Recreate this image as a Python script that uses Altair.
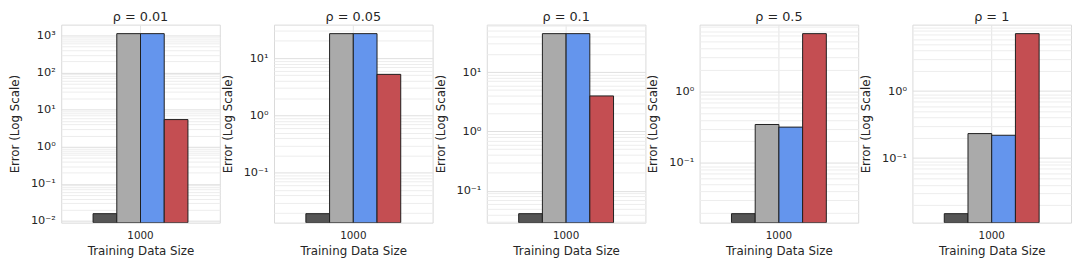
import math
import altair as alt
import pandas as pd

# ---- data ----
methods = ["M1", "M2", "M3", "M4"]
colors = ["#555555", "#AAAAAA", "#6495ED", "#C44E52"]
rho_titles = ["ρ = 0.01", "ρ = 0.05", "ρ = 0.1", "ρ = 0.5", "ρ = 1"]
train_size = "1000"
err_rho_001 = [0.0158, 1112, 1112, 5.4]
err_rho_005 = [0.0193, 26.7, 26.7, 5.2]
err_rho_01 = [0.041, 44.5, 44.5, 3.96]
err_rho_05 = [0.0194, 0.344, 0.316, 6.44]
err_rho_1 = [0.0148, 0.232, 0.219, 7.2]
all_errors = [err_rho_001, err_rho_005, err_rho_01, err_rho_05, err_rho_1]

SUP = {-3: "10⁻³", -2: "10⁻²", -1: "10⁻¹", 0: "10⁰", 1: "10¹", 2: "10²", 3: "10³", 4: "10⁴"}
LOGE = "(log(datum.value)/LN10)"
IS_DECADE = f"abs({LOGE} - round({LOGE})) < 1e-6"


def label_expr():
    expr = "''"
    for e, s in SUP.items():
        expr = f"round({LOGE}) == {e} ? '{s}' : " + expr
    return f"{IS_DECADE} ? ({expr}) : ''"


def panel(title, vals):
    a = math.log10(min(vals))
    b = math.log10(max(vals))
    m = 0.05 * (b - a)
    lo, hi = 10 ** (a - m), 10 ** (b + m)
    df = pd.DataFrame({
        "size": [train_size] * len(methods),
        "method": methods,
        "error": vals,
        "base": [lo] * len(methods),
    })
    grid_vals = []
    for e in range(math.floor(a - m) - 1, math.ceil(b + m) + 1):
        for k in range(1, 10):
            v = k * 10 ** e
            if lo <= v <= hi:
                grid_vals.append(v)
    return (
        alt.Chart(df)
        .mark_bar(stroke="#1e1e1e", strokeWidth=1, clip=True)
        .encode(
            x=alt.X(
                "size:N",
                title="Training Data Size",
                scale=alt.Scale(paddingInner=0, paddingOuter=0.336),
                axis=alt.Axis(
                    labelAngle=0, ticks=False, domain=False, grid=True, bandPosition=0.5,
                    gridColor="#e4e4e4", labelFontSize=10.5, titleFontSize=12,
                    labelPadding=8, titlePadding=5,
                ),
            ),
            xOffset=alt.XOffset("method:N", sort=methods, scale=alt.Scale(paddingInner=0, paddingOuter=0)),
            y=alt.Y(
                "error:Q",
                title="Error (Log Scale)",
                scale=alt.Scale(type="log", domain=[lo, hi], nice=False),
                axis=alt.Axis(
                    values=grid_vals, labelExpr=label_expr(), labelOverlap=False, labelFlush=False,
                    ticks=False, domain=False, grid=True,
                    gridColor={"condition": {"test": IS_DECADE, "value": "#dedede"}, "value": "#ededed"},
                    labelFontSize={"condition": {"test": IS_DECADE, "value": 11.5}, "value": 0},
                    titleFontSize=12, labelPadding=6, titlePadding=9,
                ),
            ),
            y2="base:Q",
            color=alt.Color("method:N", sort=methods, scale=alt.Scale(domain=methods, range=colors), legend=None),
        )
        .properties(
            width=161, height=201,
            title=alt.TitleParams(title, fontSize=13, fontWeight="normal", offset=1),
        )
    )


panels = [panel(t, v) for t, v in zip(rho_titles, all_errors)]

chart = (
    alt.hconcat(*panels, spacing=55, bounds="flush")
    .properties(padding={"left": 0, "top": 0, "right": 0, "bottom": 0})
    .configure(font="DejaVu Sans")
    .configure_view(stroke="#d9d9d9", strokeWidth=1)
    .configure_axis(labelColor="#262626", titleColor="#262626", titleFontWeight="normal")
    .configure_title(color="#262626", font="DejaVu Sans")
)

chart.save("out.html", embed_options={"renderer": "svg", "actions": False})
